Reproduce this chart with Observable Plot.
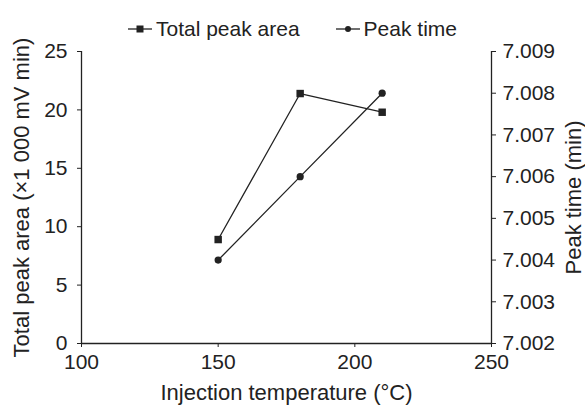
<!DOCTYPE html>
<html>
<head>
<meta charset="utf-8">
<script src="https://cdn.jsdelivr.net/npm/d3@7"></script>
<script src="https://cdn.jsdelivr.net/npm/@observablehq/plot@0.6"></script>
<style>
  body { margin: 0; background: #fff; }
  #wrap { position: relative; width: 585px; height: 405px; font-family: "Liberation Sans", Arial, sans-serif; color: #222; }
  #legend { position: absolute; top: 17px; left: 0; width: 585px; display: flex; justify-content: center; gap: 36px; font-size: 21px; line-height: 24px; }
  #legend span.item { display: inline-flex; align-items: center; }
  #legend svg { margin-right: 4px; }
</style>
</head>
<body>
<div id="wrap">
  <div id="legend"></div>
  <div id="chart"></div>
</div>
<script>
// ---- data ----
const temperatures = [150, 180, 210];
const totalPeakArea = [8.9, 21.4, 19.8];          // ×1 000 mV min
const peakTime = [7.004, 7.006, 7.008];            // min
const xTicks = [100, 150, 200, 250];
const leftTicks = [0, 5, 10, 15, 20, 25];
const rightTicks = [7.002, 7.003, 7.004, 7.005, 7.006, 7.007, 7.008, 7.009];

const seriesNames = ["Total peak area", "Peak time"];
const ink = "#222";

// map right-axis values onto the left scale (0–25)
const rMin = rightTicks[0], rMax = rightTicks[rightTicks.length - 1];
const toLeft = t => (t - rMin) / (rMax - rMin) * 25;
const fromLeft = v => rMin + v / 25 * (rMax - rMin);

const areaData = temperatures.map((t, i) => ({x: t, y: totalPeakArea[i]}));
const timeData = temperatures.map((t, i) => ({x: t, y: toLeft(peakTime[i])}));

const plot = Plot.plot({
  width: 585,
  height: 405,
  marginTop: 51,
  marginBottom: 62,
  marginLeft: 81,
  marginRight: 94,
  style: {fontFamily: "'Liberation Sans', Arial, sans-serif", fontSize: "21px", color: ink, background: "#fff"},
  x: {domain: [100, 250], label: null},
  y: {domain: [0, 25], label: null},
  marks: [
    Plot.axisX({ticks: xTicks, label: null, tickSize: 4, tickPadding: 7, tickFormat: d3.format("d"), stroke: ink, fill: ink, fontSize: 21}),
    Plot.axisX({ticks: [], label: "Injection temperature (°C)", labelAnchor: "center", labelArrow: "none", labelOffset: 56, fontSize: 22, fill: ink}),
    Plot.axisY({ticks: leftTicks, label: null, tickSize: 4, tickPadding: 10, stroke: ink, fill: ink, fontSize: 21}),
    Plot.axisY({ticks: [], label: "Total peak area (×1 000 mV min)", labelAnchor: "center", labelArrow: "none", labelOffset: 68, fontSize: 22, fill: ink}),
    Plot.axisY({anchor: "right", ticks: rightTicks.map(toLeft), label: null, tickSize: 4, tickPadding: 7,
      tickFormat: v => d3.format(".3f")(fromLeft(v)), stroke: ink, fill: ink, fontSize: 21}),
    Plot.axisY({anchor: "right", ticks: [], label: "Peak time (min)", labelAnchor: "center", labelArrow: "none", labelOffset: 89, fontSize: 22, fill: ink}),
    Plot.ruleY([0], {stroke: ink, strokeWidth: 1.3}),
    Plot.ruleX([100], {stroke: ink, strokeWidth: 1.3}),
    Plot.ruleX([250], {stroke: ink, strokeWidth: 1.3}),
    Plot.line(areaData, {x: "x", y: "y", stroke: ink, strokeWidth: 1.3}),
    Plot.line(timeData, {x: "x", y: "y", stroke: ink, strokeWidth: 1.3}),
    Plot.dot(areaData, {x: "x", y: "y", symbol: "square", r: 4.2, fill: ink, stroke: "none"}),
    Plot.dot(timeData, {x: "x", y: "y", symbol: "circle", r: 3.6, fill: ink, stroke: "none"})
  ]
});
document.getElementById("chart").appendChild(plot);

// legend
const legend = d3.select("#legend");
const symbols = ["square", "circle"];
seriesNames.forEach((name, i) => {
  const item = legend.append("span").attr("class", "item");
  const s = item.append("svg").attr("width", 24).attr("height", 12);
  s.append("line").attr("x1", 0).attr("x2", 24).attr("y1", 6).attr("y2", 6).attr("stroke", ink).attr("stroke-width", 1.3);
  if (symbols[i] === "square") s.append("rect").attr("x", 8.5).attr("y", 2.5).attr("width", 7).attr("height", 7).attr("fill", ink);
  else s.append("circle").attr("cx", 12).attr("cy", 6).attr("r", 3).attr("fill", ink);
  item.append("span").text(name);
});
</script>
</body>
</html>
